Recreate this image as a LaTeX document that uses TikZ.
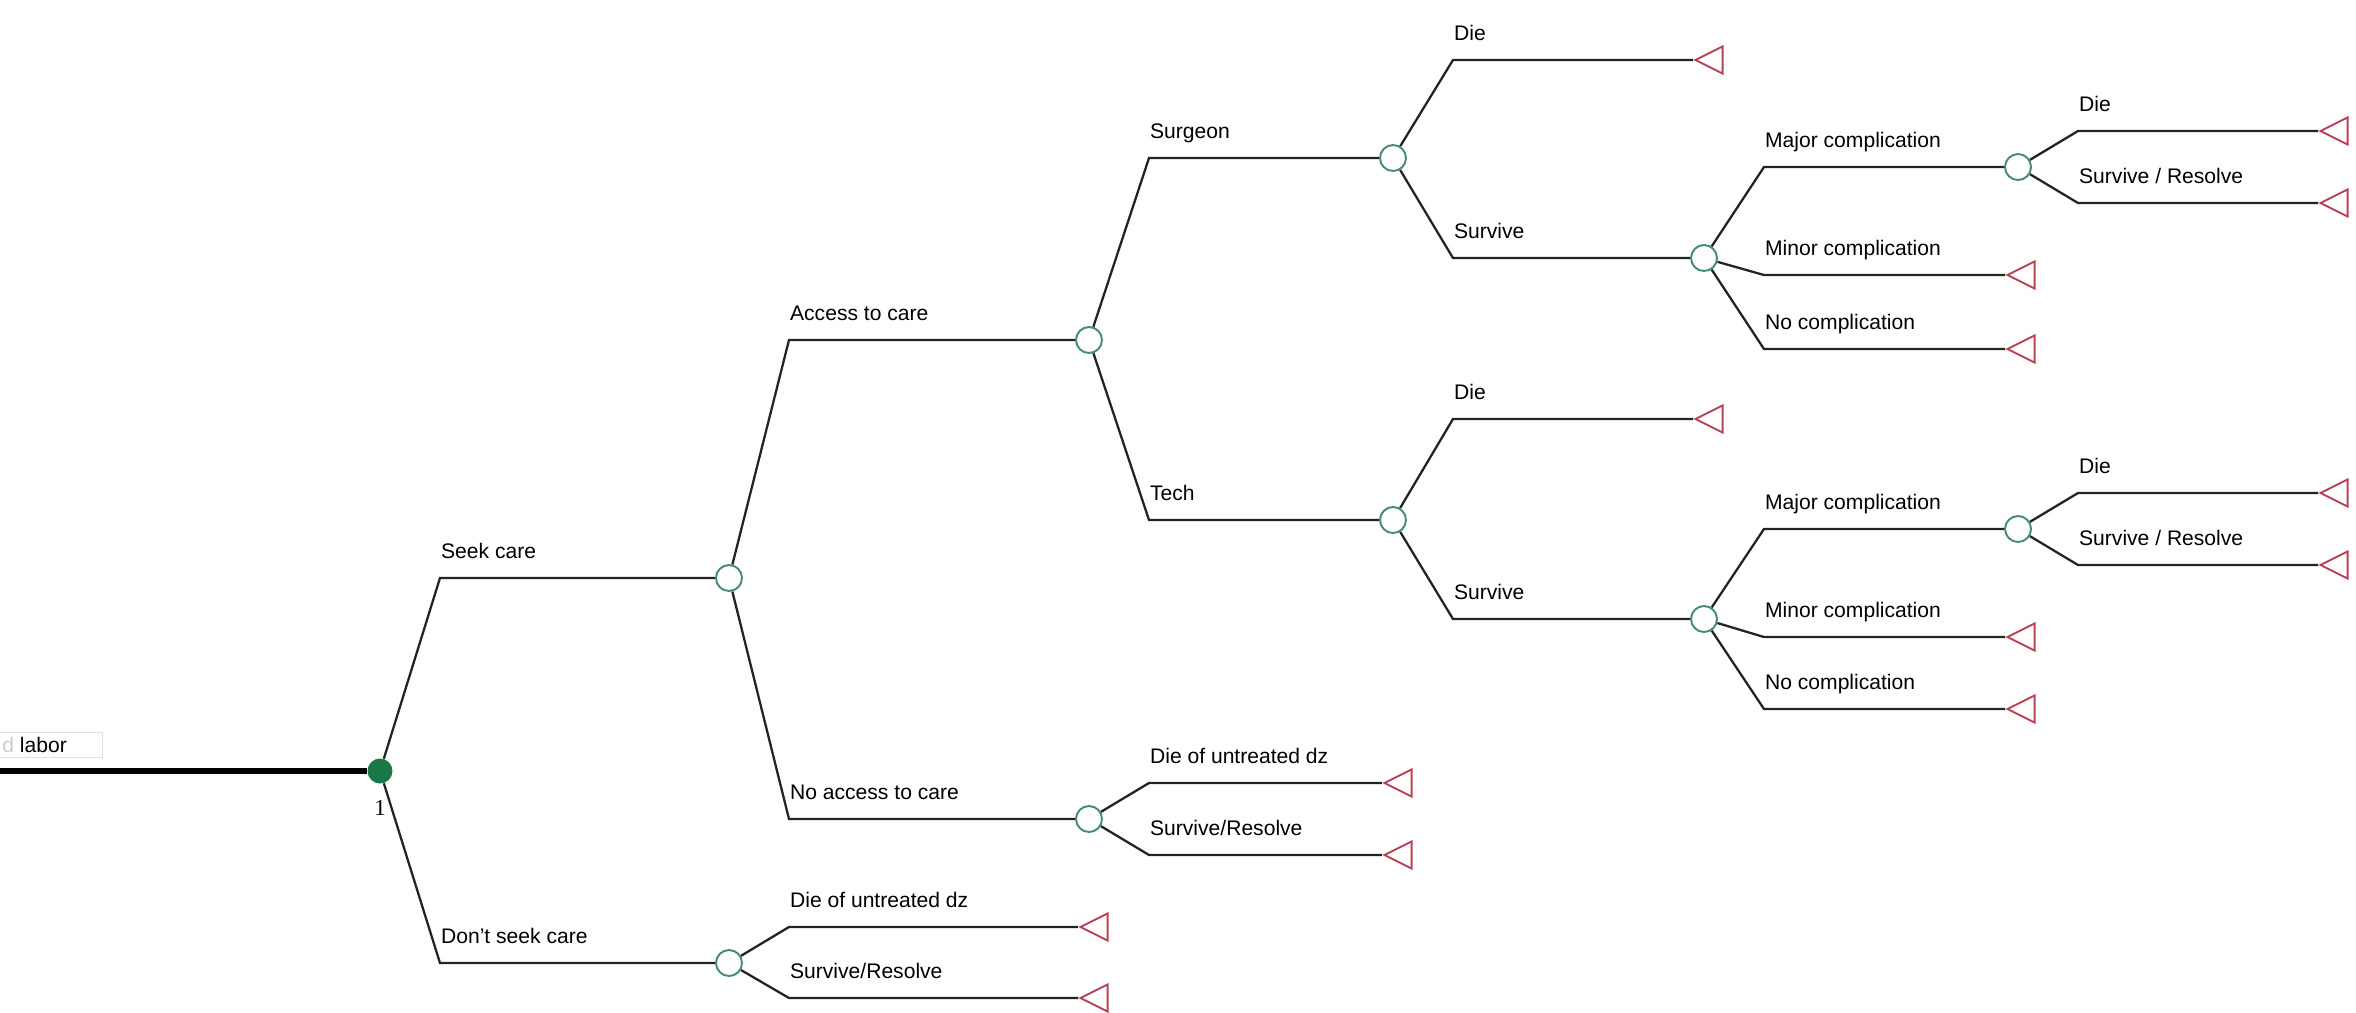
\documentclass[tikz,border=0pt]{standalone}
\usepackage{fontspec}
\setmainfont{Liberation Sans}
\newfontfamily\numfont{Liberation Serif}
\usetikzlibrary{shapes.geometric}
\definecolor{chgreen}{RGB}{70,140,110}
\definecolor{rootgreen}{RGB}{25,120,70}
\definecolor{termred}{RGB}{185,65,85}
\definecolor{linegray}{RGB}{35,35,35}

\begin{document}
\begin{tikzpicture}[x=0.02cm,y=-0.02cm]
  \tikzstyle{chance}=[circle,draw=chgreen,fill=white,line width=1.1pt,minimum size=0.52cm,inner sep=0]
  \tikzstyle{rootnode}=[circle,fill=rootgreen,minimum size=0.5cm,inner sep=0]
  \tikzstyle{term}=[isosceles triangle,isosceles triangle stretches,shape border rotate=180,draw=termred,line width=1.1pt,minimum width=0.54cm,minimum height=0.54cm,inner sep=0,anchor=apex]
  \tikzstyle{edge}=[draw=linegray,line width=1.3pt]
  \tikzstyle{lbl}=[anchor=base west,inner sep=0,yshift=0.4cm,font=\fontsize{12}{14}\selectfont]
  \useasboundingbox (0,0) rectangle (2356,1012);

  % chance nodes
  \node[rootnode] (root) at (380,771) {};
  \node[chance] (seek) at (729,578) {};
  \node[chance] (dont) at (729,963) {};
  \node[chance] (acc) at (1089,340) {};
  \node[chance] (noacc) at (1089,819) {};
  \node[chance] (surg) at (1393,158) {};
  \node[chance] (tech) at (1393,520) {};
  \node[chance] (survA) at (1704,258) {};
  \node[chance] (survB) at (1704,619) {};
  \node[chance] (majA) at (2018,167) {};
  \node[chance] (majB) at (2018,529) {};

  % terminal nodes
  \node[term] (t-dont-die) at (1078,927) {};
  \node[term] (t-dont-surv) at (1078,998) {};
  \node[term] (t-noacc-die) at (1382,783) {};
  \node[term] (t-noacc-surv) at (1382,855) {};
  \node[term] (t-surg-die) at (1693,60) {};
  \node[term] (t-tech-die) at (1693,419) {};
  \node[term] (t-minA) at (2005,275) {};
  \node[term] (t-noneA) at (2005,349) {};
  \node[term] (t-minB) at (2005,637) {};
  \node[term] (t-noneB) at (2005,709) {};
  \node[term] (t-majA-die) at (2318,131) {};
  \node[term] (t-majA-surv) at (2318,203) {};
  \node[term] (t-majB-die) at (2318,493) {};
  \node[term] (t-majB-surv) at (2318,565) {};

  % incoming branch
  \node[draw=gray!25,anchor=west,minimum width=2.2cm,minimum height=0.5cm,inner sep=0] (labbox) at (-8,745) {};
  \node[anchor=base west,inner sep=0,font=\fontsize{12}{14}\selectfont] (labor) at (2,752) {{\color{gray!40}d} labor};
  \coordinate (start) at (0,771);
  \draw[black,line width=3.4pt] (start) -- (root);
  \node[font=\numfont\fontsize{13}{15}\selectfont] (rootnum) at (380,808) {1};

  % branches
  \draw[edge] (root) -- ([xshift=1.2cm]root.center |- seek.center) node[lbl] (l-seek) {Seek care} -- (seek);
  \draw[edge] (root) -- ([xshift=1.2cm]root.center |- dont.center) node[lbl] (l-dont) {Don't seek care} -- (dont);

  \draw[edge] (seek) -- ([xshift=1.2cm]seek.center |- acc.center) node[lbl] (l-acc) {Access to care} -- (acc);
  \draw[edge] (seek) -- ([xshift=1.2cm]seek.center |- noacc.center) node[lbl] (l-noacc) {No access to care} -- (noacc);

  \draw[edge] (dont) -- ([xshift=1.2cm]dont.center |- t-dont-die.apex) node[lbl] (l-dont-die) {Die of untreated dz} -- (t-dont-die.apex);
  \draw[edge] (dont) -- ([xshift=1.2cm]dont.center |- t-dont-surv.apex) node[lbl] (l-dont-surv) {Survive/Resolve} -- (t-dont-surv.apex);

  \draw[edge] (noacc) -- ([xshift=1.2cm]noacc.center |- t-noacc-die.apex) node[lbl] (l-noacc-die) {Die of untreated dz} -- (t-noacc-die.apex);
  \draw[edge] (noacc) -- ([xshift=1.2cm]noacc.center |- t-noacc-surv.apex) node[lbl] (l-noacc-surv) {Survive/Resolve} -- (t-noacc-surv.apex);

  \draw[edge] (acc) -- ([xshift=1.2cm]acc.center |- surg.center) node[lbl] (l-surg) {Surgeon} -- (surg);
  \draw[edge] (acc) -- ([xshift=1.2cm]acc.center |- tech.center) node[lbl] (l-tech) {Tech} -- (tech);

  \draw[edge] (surg) -- ([xshift=1.2cm]surg.center |- t-surg-die.apex) node[lbl] (l-surg-die) {Die} -- (t-surg-die.apex);
  \draw[edge] (surg) -- ([xshift=1.2cm]surg.center |- survA.center) node[lbl] (l-survA) {Survive} -- (survA);
  \draw[edge] (tech) -- ([xshift=1.2cm]tech.center |- t-tech-die.apex) node[lbl] (l-tech-die) {Die} -- (t-tech-die.apex);
  \draw[edge] (tech) -- ([xshift=1.2cm]tech.center |- survB.center) node[lbl] (l-survB) {Survive} -- (survB);

  \draw[edge] (survA) -- ([xshift=1.2cm]survA.center |- majA.center) node[lbl] (l-majA) {Major complication} -- (majA);
  \draw[edge] (survA) -- ([xshift=1.2cm]survA.center |- t-minA.apex) node[lbl] (l-minA) {Minor complication} -- (t-minA.apex);
  \draw[edge] (survA) -- ([xshift=1.2cm]survA.center |- t-noneA.apex) node[lbl] (l-noneA) {No complication} -- (t-noneA.apex);
  \draw[edge] (survB) -- ([xshift=1.2cm]survB.center |- majB.center) node[lbl] (l-majB) {Major complication} -- (majB);
  \draw[edge] (survB) -- ([xshift=1.2cm]survB.center |- t-minB.apex) node[lbl] (l-minB) {Minor complication} -- (t-minB.apex);
  \draw[edge] (survB) -- ([xshift=1.2cm]survB.center |- t-noneB.apex) node[lbl] (l-noneB) {No complication} -- (t-noneB.apex);

  \draw[edge] (majA) -- ([xshift=1.2cm]majA.center |- t-majA-die.apex) node[lbl] (l-majA-die) {Die} -- (t-majA-die.apex);
  \draw[edge] (majA) -- ([xshift=1.2cm]majA.center |- t-majA-surv.apex) node[lbl] (l-majA-surv) {Survive / Resolve} -- (t-majA-surv.apex);
  \draw[edge] (majB) -- ([xshift=1.2cm]majB.center |- t-majB-die.apex) node[lbl] (l-majB-die) {Die} -- (t-majB-die.apex);
  \draw[edge] (majB) -- ([xshift=1.2cm]majB.center |- t-majB-surv.apex) node[lbl] (l-majB-surv) {Survive / Resolve} -- (t-majB-surv.apex);
\end{tikzpicture}
\end{document}
